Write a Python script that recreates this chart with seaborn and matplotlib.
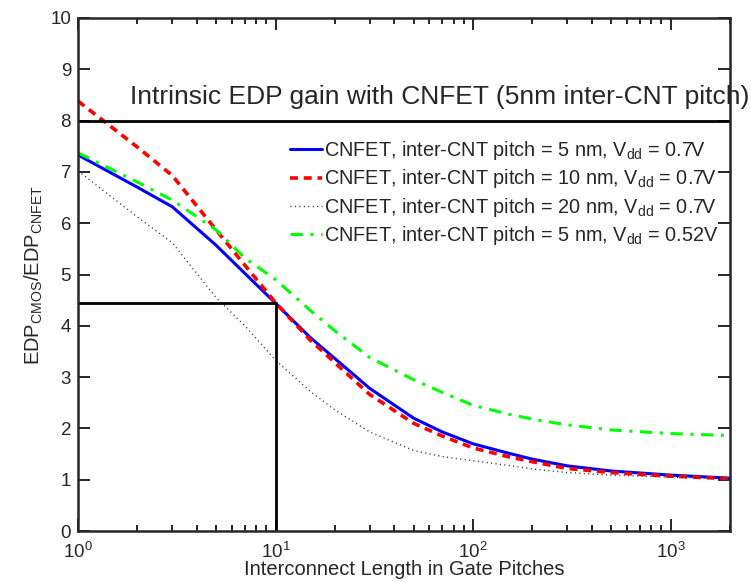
import matplotlib
matplotlib.use('Agg')
import matplotlib.pyplot as plt
import seaborn as sns
import pandas as pd

# Interconnect length in gate pitches (shared x grid)
length = [1, 2, 3, 5, 7, 10, 15, 20, 30, 50, 70, 100, 150, 200, 300, 500, 1000, 2000]

# EDP_CMOS / EDP_CNFET
pitch5_07 = [7.33, 6.70, 6.32, 5.57, 5.02, 4.44, 3.77, 3.36, 2.78, 2.20, 1.93, 1.70, 1.52, 1.40, 1.27, 1.17, 1.09, 1.03]
pitch10_07 = [8.38, 7.48, 6.93, 5.87, 5.18, 4.45, 3.72, 3.28, 2.66, 2.10, 1.85, 1.62, 1.45, 1.35, 1.22, 1.14, 1.07, 1.02]
pitch20_07 = [7.02, 6.12, 5.62, 4.55, 4.00, 3.33, 2.72, 2.36, 1.93, 1.57, 1.45, 1.37, 1.28, 1.21, 1.14, 1.09, 1.05, 1.02]
pitch5_052 = [7.37, 6.80, 6.45, 5.87, 5.32, 4.90, 4.30, 3.90, 3.38, 2.95, 2.70, 2.45, 2.28, 2.18, 2.07, 1.97, 1.90, 1.86]

labels = [
    'CNFET, inter-CNT pitch = 5 nm, V$_{dd}$ = 0.7V',
    'CNFET, inter-CNT pitch = 10 nm, V$_{dd}$ = 0.7V',
    'CNFET, inter-CNT pitch = 20 nm, V$_{dd}$ = 0.7V',
    'CNFET, inter-CNT pitch = 5 nm, V$_{dd}$ = 0.52V',
]

# reference markers
target_len = 10
target_gain = 4.45
intrinsic_gain = 8

sns.set_style('ticks')
plt.rcParams['font.family'] = ['Liberation Sans', 'DejaVu Sans']
plt.rcParams['mathtext.default'] = 'regular'

fig = plt.figure(figsize=(7.51, 5.82), dpi=100)
ax = fig.add_axes([0.1039, 0.0876, 0.8681, 0.8815])

styles = [
    dict(color='#0000ff', linestyle='-', linewidth=2.2),
    dict(color='#ff0000', linestyle=(0, (2.2, 1.6)), linewidth=2.6),
    dict(color='#333333', linestyle=(0, (0.8, 2.4)), linewidth=1.0),
    dict(color='#00ff00', linestyle=(0, (4, 2.5, 1, 2.5)), linewidth=2.2),
]
for vals, lab, st in zip([pitch5_07, pitch10_07, pitch20_07, pitch5_052], labels, styles):
    df = pd.DataFrame({'len': length, 'gain': vals})
    sns.lineplot(data=df, x='len', y='gain', ax=ax, label=lab, **st)

ax.axhline(intrinsic_gain, color='black', linewidth=2)
ax.plot([1, target_len], [target_gain, target_gain], color='black', linewidth=2)
ax.plot([target_len, target_len], [0, target_gain], color='black', linewidth=2)

ax.set_xscale('log')
ax.set_xlim(1, 2000)
ax.set_ylim(0, 10)
ax.set_yticks(range(0, 11))

ax.text(1.84, 8.46, 'Intrinsic EDP gain with CNFET (5nm inter-CNT pitch)',
        fontsize=19, va='center', ha='left', clip_on=False)

ax.set_xlabel('Interconnect Length in Gate Pitches', fontsize=14.5, labelpad=-1)
ax.set_ylabel('EDP$_{CMOS}$/EDP$_{CNFET}$', fontsize=14.5, labelpad=4)

ax.tick_params(which='both', direction='in', top=True, right=True, labelsize=13.5, width=1.4)
ax.tick_params(axis='x', pad=7.5)
ax.tick_params(axis='y', pad=5)
ax.tick_params(which='major', length=8.5)
ax.tick_params(which='minor', length=4.5)
for s in ax.spines.values():
    s.set_linewidth(1.8)
    s.set_visible(True)

ax.legend(loc='upper left', bbox_to_anchor=(0.313, 0.779), frameon=False, fontsize=14.3,
          handlelength=1.6, handletextpad=0.1, labelspacing=0.26, borderaxespad=0)

fig.savefig('out.png', dpi=100)
